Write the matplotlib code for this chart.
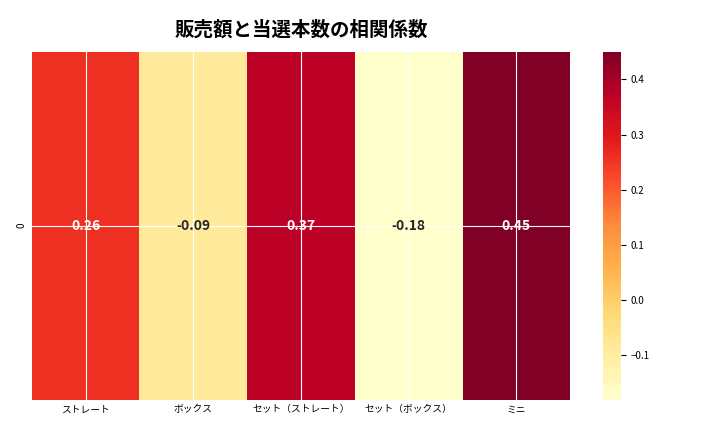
import numpy as np
import matplotlib
matplotlib.use("Agg")
import matplotlib.pyplot as plt
import seaborn as sns

plt.rcParams["font.family"] = "Noto Sans CJK JP"

labels = ["ストレート", "ボックス", "セット（ストレート）", "セット（ボックス）", "ミニ"]
corr_values = [0.26, -0.09, 0.37, -0.18, 0.45]

fig = plt.figure(figsize=(7.2, 4.32), dpi=100)
ax = fig.add_axes([0.044, 0.075, 0.748, 0.805])
cax = fig.add_axes([0.837, 0.075, 0.025, 0.805])

data = np.array([corr_values])
sns.heatmap(data, ax=ax, cbar_ax=cax, cmap="YlOrRd", annot=True, fmt=".2f",
            annot_kws={"fontsize": 10, "fontweight": "bold"},
            xticklabels=labels, yticklabels=["0"])
ax.set_axisbelow(False)
ax.grid(True, color="white", linewidth=0.8)
ax.tick_params(axis="both", labelsize=7, length=0)
plt.setp(ax.get_xticklabels(), rotation=0)
plt.setp(ax.get_yticklabels(), rotation=90, va="center")
ax.set_title("販売額と当選本数の相関係数", fontsize=14, fontweight="bold", pad=12)
cax.tick_params(labelsize=7)

fig.savefig("out.png", dpi=100)
